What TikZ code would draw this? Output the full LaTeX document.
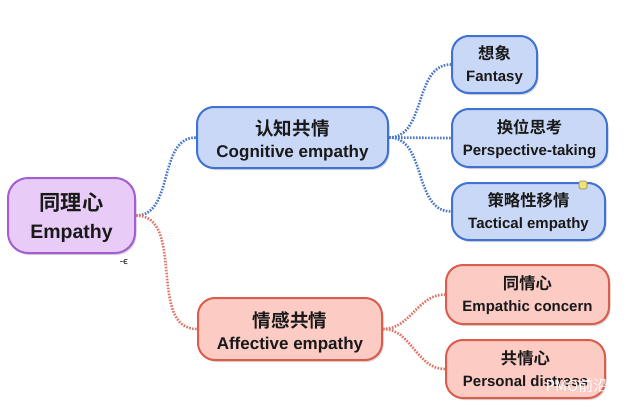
\documentclass[tikz,border=0pt]{standalone}
\usepackage{fontspec}
\setmainfont{Liberation Sans}
\newfontfamily\cjk{Noto Sans CJK SC}[BoldFont={* Bold}, Scale=1.09]
\newfontfamily\cjkmark{Noto Sans CJK SC}
\newfontfamily\dejavu{DejaVu Sans}
\usetikzlibrary{shadows}
\definecolor{purfill}{HTML}{E8CCF7}
\definecolor{purline}{HTML}{A45ED2}
\definecolor{bluefill}{HTML}{CAD8F7}
\definecolor{blueline}{HTML}{3F72D2}
\definecolor{redfill}{HTML}{FBCBC4}
\definecolor{redline}{HTML}{D95E4D}
\definecolor{bluedot}{HTML}{4D7ACB}
\definecolor{reddot}{HTML}{E0786A}
\definecolor{marky}{HTML}{F2E36A}
\newcommand\twol[3]{\raisebox{#1}[\height][\depth]{\begin{tabular}{@{}c@{}}{\cjk\bfseries #2}\\ #3\end{tabular}}}
\tikzset{
  box/.style={rectangle, rounded corners=17pt, line width=2pt,
    inner sep=0pt, text=black!90,
    drop shadow={shadow xshift=1.5pt, shadow yshift=-2pt, opacity=0.25, fill=black!60}},
  rootbox/.style={box, draw=purline, fill=purfill, rounded corners=20pt,
    font=\bfseries\fontsize{19.5}{28}\selectfont},
  midfont/.style={font=\bfseries\fontsize{17}{22}\selectfont},
  leaffont/.style={font=\bfseries\fontsize{15}{22}\selectfont},
  bluebox/.style={box, draw=blueline, fill=bluefill},
  redbox/.style={box, draw=redline, fill=redfill},
  bluelink/.style={draw=bluedot, line width=2.6pt, dash pattern=on 1.6pt off 1.4pt},
  redlink/.style={draw=reddot, line width=2.6pt, dash pattern=on 1.6pt off 1.4pt},
}
\begin{document}
\begin{tikzpicture}[x=1pt,y=-1pt]
\useasboundingbox[fill=white] (0,0) rectangle (631,415);

\node[rootbox, minimum width=127pt, minimum height=75pt] (root) at (71.5,215.5)
  {\twol{-3pt}{同理心}{Empathy}};

\node[bluebox, midfont, minimum width=191pt, minimum height=61pt] (cog) at (292.5,137.5)
  {\twol{-4.5pt}{认知共情}{Cognitive empathy}};
\node[redbox, midfont, minimum width=184pt, minimum height=62pt] (aff) at (290,329)
  {\twol{-4.5pt}{情感共情}{Affective empathy}};

\node[bluebox, leaffont, minimum width=85pt, minimum height=57pt] (fan) at (494.5,64.5)
  {\twol{-2pt}{想象}{Fantasy}};
\node[bluebox, leaffont, minimum width=155pt, minimum height=58pt] (per) at (529.5,138)
  {\twol{-2pt}{换位思考}{Perspective-taking}};
\node[bluebox, leaffont, minimum width=153pt, minimum height=57pt] (tac) at (528.5,211.5)
  {\twol{-2pt}{策略性移情}{Tactical empathy}};
\node[redbox, leaffont, minimum width=163pt, minimum height=59pt] (emp) at (527.5,294.5)
  {\twol{-2pt}{同情心}{Empathic concern}};
\node[redbox, leaffont, minimum width=159pt, minimum height=58pt] (pd) at (525.5,369)
  {\twol{-2pt}{共情心}{Personal distress}};

% yellow marker
\node[draw=black!50, fill=marky, rounded corners=1.5pt, minimum size=8pt, inner sep=0pt, line width=0.6pt] (mk) at (583,185) {};

% connectors
\path[bluelink] (root.east) to[out=0,in=180] (cog.west);
\path[redlink] (root.east) to[out=0,in=180] (aff.west);
\path[bluelink] (cog.east) to[out=0,in=180] (fan.west);
\path[bluelink] (cog.east) to[out=0,in=180] (per.west);
\path[bluelink] (cog.east) to[out=0,in=180] (tac.west);
\path[redlink] (aff.east) to[out=0,in=180] (emp.west);
\path[redlink] (aff.east) to[out=0,in=180] (pd.west);

% small mark
\node[font=\dejavu\fontsize{9}{10}\selectfont, inner sep=0pt] (sm) at (124,262) {-є};

% watermark
\node[font=\cjkmark\fontsize{15}{18}\selectfont, text=white, inner sep=0pt] (wm) at (577,386) {PMO前沿};
\end{tikzpicture}
\end{document}
